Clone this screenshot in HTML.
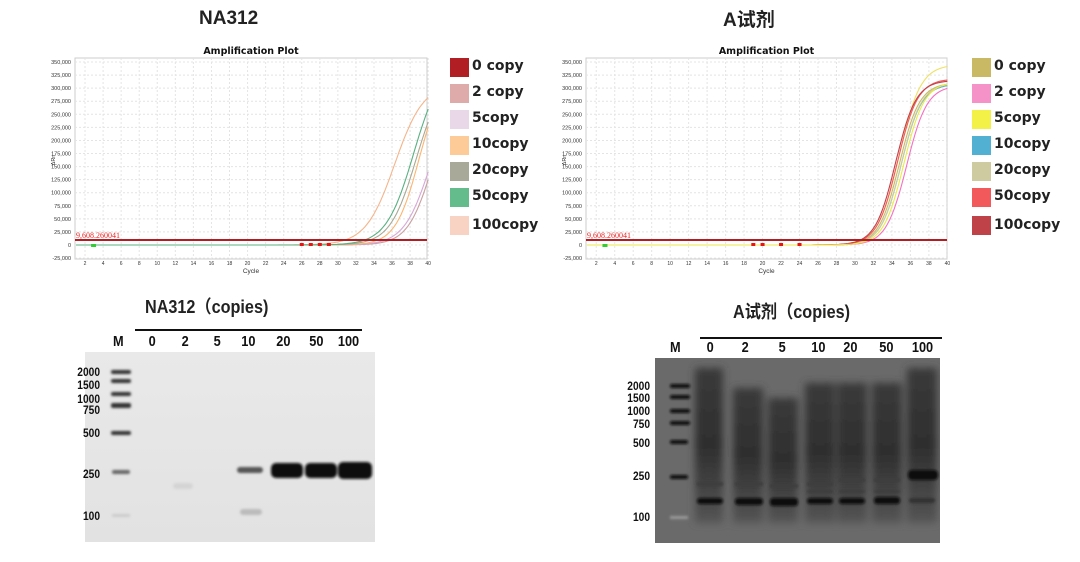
<!DOCTYPE html>
<html><head><meta charset="utf-8"><style>
body{margin:0;width:1080px;height:562px;background:#fff;position:relative;overflow:hidden;font-family:"Liberation Sans","Noto Sans CJK SC",sans-serif}
.a{position:absolute;white-space:nowrap}
.t{font-weight:bold;font-size:19px;color:#222}
.lg{font-weight:bold;font-size:14px;color:#222;font-family:"DejaVu Sans","Noto Sans CJK SC",sans-serif}
.sw{position:absolute;width:19px;height:19px}
.g{font-weight:bold;font-size:15px;color:#111;transform:scaleX(0.85);transform-origin:center}
.ml{font-weight:bold;font-size:12px;color:#111;text-align:right;width:40px;transform:scaleX(0.85);transform-origin:right}
</style></head><body>
<div class="a t" style="left:199px;top:8px">NA312</div>
<div class="a t" style="left:723px;top:5px;font-family:'Liberation Sans','Noto Sans CJK SC',sans-serif">A试剂</div>
<svg class="a" style="left:0;top:0" width="1080" height="290" id="s"></svg>

<div class="sw" style="left:450px;top:58px;background:#b11f25"></div><div class="a lg" style="left:472px;top:58px">0 copy</div>
<div class="sw" style="left:450px;top:84px;background:#dfaaaa"></div><div class="a lg" style="left:472px;top:84px">2 copy</div>
<div class="sw" style="left:450px;top:110px;background:#e8d8e8"></div><div class="a lg" style="left:472px;top:110px">5copy</div>
<div class="sw" style="left:450px;top:136px;background:#fccb98"></div><div class="a lg" style="left:472px;top:136px">10copy</div>
<div class="sw" style="left:450px;top:162px;background:#a9a999"></div><div class="a lg" style="left:472px;top:162px">20copy</div>
<div class="sw" style="left:450px;top:188px;background:#64bb8b"></div><div class="a lg" style="left:472px;top:188px">50copy</div>
<div class="sw" style="left:450px;top:216px;background:#f8d2c2"></div><div class="a lg" style="left:472px;top:217px">100copy</div>

<div class="sw" style="left:972px;top:58px;background:#c9b864"></div><div class="a lg" style="left:994px;top:58px">0 copy</div>
<div class="sw" style="left:972px;top:84px;background:#f593c8"></div><div class="a lg" style="left:994px;top:84px">2 copy</div>
<div class="sw" style="left:972px;top:110px;background:#f3f047"></div><div class="a lg" style="left:994px;top:110px">5copy</div>
<div class="sw" style="left:972px;top:136px;background:#52b0d3"></div><div class="a lg" style="left:994px;top:136px">10copy</div>
<div class="sw" style="left:972px;top:162px;background:#cfcba0"></div><div class="a lg" style="left:994px;top:162px">20copy</div>
<div class="sw" style="left:972px;top:188px;background:#f2595a"></div><div class="a lg" style="left:994px;top:188px">50copy</div>
<div class="sw" style="left:972px;top:216px;background:#be4248"></div><div class="a lg" style="left:994px;top:217px">100copy</div>

<!-- left gel -->
<div class="a t" style="left:145px;top:293px;font-size:18px;transform:scaleX(.9);transform-origin:left">NA312（copies)</div>
<div class="a" style="left:135px;top:329px;width:227px;height:2px;background:#111"></div>
<div class="a" style="left:85px;top:352px;width:290px;height:190px;background:linear-gradient(#e9e9e9,#e2e2e2)"></div>
<svg class="a" style="left:85px;top:352px" width="290" height="190">
<defs><filter id="b"><feGaussianBlur stdDeviation="1.2"/></filter></defs>
<g fill="#333" filter="url(#b)">
<rect x="26" y="18" width="20" height="4" rx="2"/><rect x="26" y="27" width="20" height="4" rx="2"/><rect x="26" y="40" width="20" height="4" rx="2"/><rect x="26" y="51" width="20" height="5" rx="2"/><rect x="26" y="79" width="20" height="4" rx="2"/><rect x="27" y="118" width="18" height="4" rx="2" fill="#666"/><rect x="27" y="162" width="18" height="3" fill="#ccc"/>
<rect x="152" y="115" width="26" height="6" rx="3" fill="#555"/>
<rect x="186" y="111" width="32" height="15" rx="5" fill="#111"/>
<rect x="220" y="111" width="32" height="15" rx="5" fill="#111"/>
<rect x="253" y="110" width="34" height="17" rx="5" fill="#111"/>
<rect x="155" y="157" width="22" height="6" rx="3" fill="#bbb"/>
<rect x="88" y="131" width="20" height="6" rx="3" fill="#d4d4d4"/>
</g></svg>
<div class="a g" style="left:112px;top:333px">M</div>
<div class="a g" style="left:148px;top:333px">0</div>
<div class="a g" style="left:181px;top:333px">2</div>
<div class="a g" style="left:213px;top:333px">5</div>
<div class="a g" style="left:240px;top:333px">10</div>
<div class="a g" style="left:275px;top:333px">20</div>
<div class="a g" style="left:308px;top:333px">50</div>
<div class="a g" style="left:336px;top:333px">100</div>
<div class="a ml" style="left:60px;top:365px">2000</div>
<div class="a ml" style="left:60px;top:378px">1500</div>
<div class="a ml" style="left:60px;top:392px">1000</div>
<div class="a ml" style="left:60px;top:403px">750</div>
<div class="a ml" style="left:60px;top:426px">500</div>
<div class="a ml" style="left:60px;top:467px">250</div>
<div class="a ml" style="left:60px;top:509px">100</div>

<!-- right gel -->
<div class="a t" style="left:733px;top:298px;font-size:18px;transform:scaleX(.9);transform-origin:left">A试剂（copies)</div>
<div class="a" style="left:700px;top:337px;width:242px;height:2px;background:#111"></div>
<div class="a" style="left:655px;top:358px;width:285px;height:185px;background:#6a6a6a"></div>
<svg class="a" style="left:655px;top:358px" width="285" height="185">
<defs><linearGradient id="sm" x1="0" y1="0" x2="0" y2="1"><stop offset="0" stop-color="#3a3a3a"/><stop offset=".5" stop-color="#2e2e2e"/><stop offset="1" stop-color="#555"/></linearGradient><filter id="c"><feGaussianBlur stdDeviation="1.3"/></filter><filter id="c2"><feGaussianBlur stdDeviation="4"/></filter></defs>
<g filter="url(#c2)" fill="url(#sm)">
<rect x="40" y="10" width="28" height="155"/><rect x="78" y="30" width="30" height="135"/><rect x="113" y="40" width="30" height="125"/><rect x="150" y="25" width="30" height="140"/><rect x="182" y="25" width="30" height="140"/><rect x="217" y="25" width="30" height="140"/><rect x="252" y="10" width="30" height="155"/>
</g>
<g filter="url(#c)">
<g fill="#111"><rect x="15" y="26" width="20" height="4" rx="2"/><rect x="15" y="37" width="20" height="4" rx="2"/><rect x="15" y="51" width="20" height="4" rx="2"/><rect x="15" y="63" width="20" height="4" rx="2"/><rect x="15" y="82" width="18" height="4" rx="2"/><rect x="15" y="117" width="18" height="4" rx="2"/></g>
<rect x="15" y="158" width="18" height="3" fill="#999"/>
<g fill="#111">
<rect x="42" y="140" width="26" height="6" rx="3"/><rect x="80" y="140" width="28" height="7" rx="3"/><rect x="115" y="140" width="28" height="8" rx="3"/><rect x="152" y="140" width="26" height="6" rx="3"/><rect x="184" y="140" width="26" height="6" rx="3"/><rect x="219" y="139" width="26" height="7" rx="3"/><rect x="254" y="140" width="26" height="5" rx="3" fill="#333"/>
<rect x="253" y="112" width="30" height="10" rx="4"/>
</g>
<g fill="#3c3c3c"><rect x="42" y="124" width="26" height="4"/><rect x="80" y="124" width="28" height="4"/><rect x="115" y="126" width="28" height="4"/><rect x="152" y="124" width="26" height="4"/><rect x="184" y="120" width="26" height="4"/><rect x="219" y="120" width="26" height="4"/><rect x="152" y="132" width="26" height="3"/><rect x="184" y="132" width="26" height="3"/><rect x="219" y="132" width="26" height="3"/></g>
</g></svg>
<div class="a g" style="left:669px;top:339px">M</div>
<div class="a g" style="left:706px;top:339px">0</div>
<div class="a g" style="left:741px;top:339px">2</div>
<div class="a g" style="left:778px;top:339px">5</div>
<div class="a g" style="left:810px;top:339px">10</div>
<div class="a g" style="left:842px;top:339px">20</div>
<div class="a g" style="left:878px;top:339px">50</div>
<div class="a g" style="left:910px;top:339px">100</div>
<div class="a ml" style="left:610px;top:379px">2000</div>
<div class="a ml" style="left:610px;top:391px">1500</div>
<div class="a ml" style="left:610px;top:404px">1000</div>
<div class="a ml" style="left:610px;top:417px">750</div>
<div class="a ml" style="left:610px;top:436px">500</div>
<div class="a ml" style="left:610px;top:469px">250</div>
<div class="a ml" style="left:610px;top:510px">100</div>

<script>
var s=document.getElementById('s'),h='';
function plot(X0,X1,c1,dc,leg,curves){
 var yv=function(v){return 245-v/25000*13.07};
 var xc=function(c){return c1+(c-1)*dc};
 h+='<text x="'+((X0+X1)/2)+'" y="54" font-size="9.5" font-weight="bold" text-anchor="middle" font-family="DejaVu Sans,sans-serif" fill="#111">Amplification Plot</text>';
 h+='<rect x="'+X0+'" y="58" width="'+(X1-X0)+'" height="201" fill="#fff" stroke="#ccc"/>';
 for(var v=-25000;v<=350000;v+=25000){var y=yv(v);
  h+='<line x1="'+X0+'" x2="'+X1+'" y1="'+y+'" y2="'+y+'" stroke="#e4e4e4" stroke-dasharray="2,2"/>';
  h+='<text x="'+(X0-4)+'" y="'+(y+2)+'" font-size="5.5" text-anchor="end" fill="#333" font-family="Liberation Sans,sans-serif">'+v.toLocaleString('en-US')+'</text>';}
 for(var c=2;c<=40;c+=2){var x=xc(c);
  h+='<line x1="'+x+'" x2="'+x+'" y1="58" y2="259" stroke="#e4e4e4" stroke-dasharray="2,2"/>';
  h+='<text x="'+x+'" y="265" font-size="5" text-anchor="middle" fill="#333" font-family="Liberation Sans,sans-serif">'+c+'</text>';}
 h+='<text x="'+((X0+X1)/2)+'" y="273" font-size="6.5" text-anchor="middle" fill="#333" font-family="Liberation Sans,sans-serif">Cycle</text>';
 h+='<text x="'+(X0-20)+'" y="160" font-size="5.5" fill="#333" transform="rotate(-90 '+(X0-20)+' 160)" text-anchor="middle">ΔRn</text>';
 curves.forEach(function(k){var d='';for(var c=1;c<=40;c+=0.25){var v=k[1]/(1+Math.exp(-(c-k[2])/k[3]))-k[1]/(1+Math.exp(-(1-k[2])/k[3]));d+=(d?'L':'M')+xc(c).toFixed(1)+','+yv(v).toFixed(1);}
  h+='<path d="'+d+'" fill="none" stroke="'+k[0]+'" stroke-width="1.1"/>';});
 h+='<line x1="'+X0+'" x2="'+X1+'" y1="240" y2="240" stroke="#b51c22" stroke-width="2"/>';
 h+='<text x="'+(X0+1)+'" y="238" font-size="8" fill="#e22" font-family="Liberation Serif,serif">9,608.260041</text>';
 h+='<rect x="'+(xc(3)-3)+'" y="244" width="5" height="3" fill="#3c3"/>';
 leg.forEach(function(c){h+='<rect x="'+(xc(c)-2)+'" y="243" width="4" height="3" fill="#e11"/>';});
}
plot(75,427,76,9.03,[26,27,28,29],[
 ['#f5b48a',310000,36.3,1.6],['#c9a0a0',300000,40.46,1.36],['#d7a7d6',300000,40.2,1.45],
 ['#fcb470',330000,39.0,1.3],['#a8a894',330000,38.68,1.45],['#58b080',350000,38.39,1.52]]);
plot(586,947,587,9.24,[19,20,22,24],[
 ['#f0e060',345000,34.8,1.15],['#c9b864',310000,34.8,1.1],['#52b0d3',308000,35,1.1],
 ['#d0cc9c',310000,35,1.1],['#f2595a',318000,34.6,1.1],['#be4248',315000,34.4,1.1],['#f570c0',305000,35.6,1.1],['#eeea40',312000,35.3,1.1]]);
s.innerHTML=h;
</script>
</body></html>
